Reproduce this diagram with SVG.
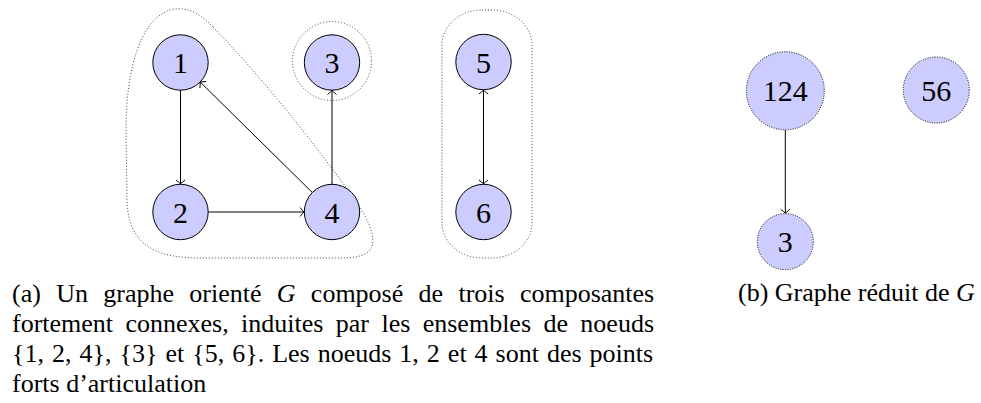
<svg xmlns="http://www.w3.org/2000/svg" width="981" height="403" viewBox="0 0 981 403">
<style>
.bg{fill:#ffffff}
.node circle{fill:#ccccff;stroke:#000;stroke-width:1}
.rnode circle{fill:#ccccff;stroke:#000;stroke-width:1;stroke-dasharray:1 1.4}
.lbl{font-size:30px;text-anchor:middle;fill:#000}
.enc{fill:none;stroke:#444;stroke-width:1;stroke-dasharray:1 2}
.edge{fill:none;stroke:#000;stroke-width:1}
.cap{font-size:26px;fill:#000}
.m{font-style:italic}
</style>
<defs>
<marker id="arr" markerUnits="userSpaceOnUse" markerWidth="12" markerHeight="12" refX="0" refY="0" viewBox="-6 -6 12 12" orient="auto-start-reverse" overflow="visible">
<path d="M-4,-4.5 Q-1.2,-1 0,0 Q-1.2,1 -4,4.5" fill="none" stroke="#000" stroke-width="1"/>
</marker>
</defs>
<rect class="bg" x="0" y="0" width="981" height="403"/>

<g id="enclosures">
<path id="scc124" class="enc" d="M213,27 C260,75 320,150 355,200 C368,218 378,240 370,250 C364,257 352,258 340,258 L200,258 C160,258 128,248 127,200 L126,130 C126,70 140,20 170,10 C190,5 203,17 213,27 Z"/>
<circle id="scc3" class="enc" cx="332" cy="61" r="39.5"/>
<rect id="scc56" class="enc" x="442" y="10" width="90" height="248" rx="40" ry="35"/>
</g>

<g id="connectors">
<line class="edge" x1="180.5" y1="90" x2="180.5" y2="184" marker-end="url(#arr)"/>
<line class="edge" x1="208.5" y1="212" x2="304" y2="212" marker-end="url(#arr)"/>
<line class="edge" x1="312.3" y1="192.5" x2="200.2" y2="82" marker-end="url(#arr)"/>
<line class="edge" x1="332" y1="184" x2="332" y2="90.5" marker-end="url(#arr)"/>
<line class="edge" x1="483.5" y1="90" x2="483.5" y2="184" marker-start="url(#arr)" marker-end="url(#arr)"/>
<line class="edge" x1="785.3" y1="130" x2="785.3" y2="213.3" marker-end="url(#arr)"/>
</g>

<g font-family="'Liberation Serif', 'Times New Roman', Times, 'DejaVu Serif', serif">
<g id="n1" class="node"><circle cx="180.5" cy="62.5" r="27.7"/><text class="lbl" x="180.5" y="73">1</text></g>
<g id="n2" class="node"><circle cx="180.5" cy="212" r="27.7"/><text class="lbl" x="180.5" y="222.5">2</text></g>
<g id="n3" class="node"><circle cx="332" cy="62.5" r="27.7"/><text class="lbl" x="332" y="73">3</text></g>
<g id="n4" class="node"><circle cx="332" cy="212" r="27.7"/><text class="lbl" x="332" y="222.5">4</text></g>
<g id="n5" class="node"><circle cx="483.5" cy="62" r="27.7"/><text class="lbl" x="483.5" y="72.5">5</text></g>
<g id="n6" class="node"><circle cx="483.5" cy="212" r="27.7"/><text class="lbl" x="483.5" y="222.5">6</text></g>

<g id="r124" class="rnode"><circle cx="785.3" cy="90.8" r="39"/><text class="lbl" x="785.3" y="101.3">124</text></g>
<g id="r56" class="rnode"><circle cx="936.3" cy="90" r="33"/><text class="lbl" x="936.3" y="100.5">56</text></g>
<g id="r3" class="rnode"><circle cx="785.3" cy="241.7" r="28"/><text class="lbl" x="785.3" y="252.2">3</text></g>

<g id="caption-a">
<text class="cap" x="12" y="301.5" word-spacing="8.8">(a) Un graphe orienté <tspan class="m">G</tspan> composé de trois composantes</text>
<text class="cap" x="12" y="332" word-spacing="5.9">fortement connexes, induites par les ensembles de noeuds</text>
<text class="cap" x="12" y="362.3" word-spacing="1.5">{1, 2, 4}, {3} et {5, 6}. Les noeuds 1, 2 et 4 sont des points</text>
<text class="cap" x="12" y="392.3">forts d’articulation</text>
</g>
<g id="caption-b">
<text class="cap" x="738" y="301">(b) Graphe réduit de <tspan class="m">G</tspan></text>
</g>
</g>
</svg>
